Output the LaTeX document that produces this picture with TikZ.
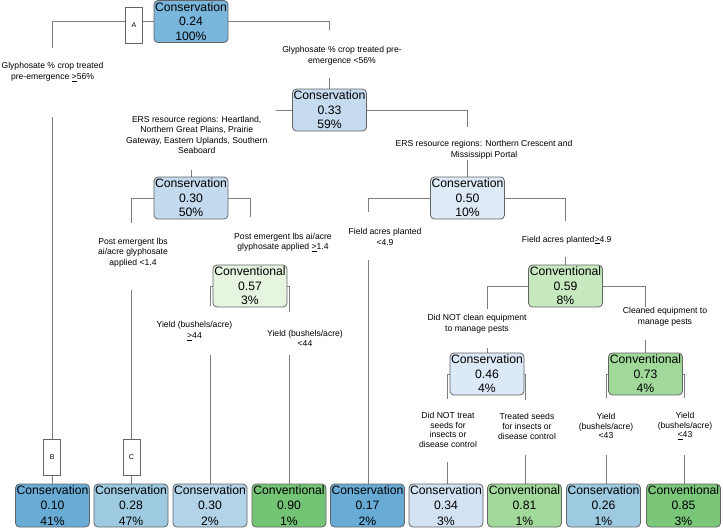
\documentclass[tikz,border=0pt]{standalone}
\usepackage{fontspec}
\setmainfont{Liberation Sans}
\usetikzlibrary{backgrounds,calc}
\definecolor{boxgray}{RGB}{100,100,100}
\definecolor{linegray}{RGB}{125,125,125}
\definecolor{c024}{RGB}{122,182,220}
\definecolor{c033}{RGB}{198,219,239}
\definecolor{c030}{RGB}{196,218,238}
\definecolor{c050}{RGB}{222,235,247}
\definecolor{c046}{RGB}{220,233,246}
\definecolor{g057}{RGB}{229,245,224}
\definecolor{g059}{RGB}{199,233,192}
\definecolor{g073}{RGB}{161,217,155}
\definecolor{c010}{RGB}{104,172,214}
\definecolor{c028}{RGB}{158,202,225}
\definecolor{c030l}{RGB}{178,211,232}
\definecolor{g090}{RGB}{116,196,118}
\definecolor{c017}{RGB}{104,172,214}
\definecolor{c034}{RGB}{210,226,242}
\definecolor{g081}{RGB}{161,217,155}
\definecolor{c026}{RGB}{158,202,225}
\definecolor{g085}{RGB}{122,199,122}
\tikzset{
  tn/.style={draw=boxgray, line width=0.8pt, rounded corners=4pt, minimum width=74pt,
    minimum height=42pt, inner sep=0pt, align=center, font=\fontsize{12.2}{14.6}\selectfont},
  lf/.style={tn, minimum height=43pt, font=\fontsize{12.2}{15.2}\selectfont},
  lbl/.style={align=center, inner sep=0pt, font=\fontsize{8.6}{10.6}\selectfont},
  lbls/.style={align=center, inner sep=0pt, font=\fontsize{8.6}{9.6}\selectfont},
  tagbox/.style={draw=boxgray, fill=white, line width=0.7pt, minimum width=17pt,
    minimum height=36pt, inner sep=0pt, font=\fontsize{7}{8}\selectfont},
  conn/.style={draw=linegray, line width=0.9pt},
}
\begin{document}
\begin{tikzpicture}[x=1pt,y=-1pt]
\useasboundingbox (0,0) rectangle (723,528);
% internal nodes
\node[tn, fill=c024] (n0) at (191,21.5) {Conservation\\0.24\\100\%};
\node[tn, fill=c033] (n1) at (329.5,110) {Conservation\\0.33\\59\%};
\node[tn, fill=c030] (n2) at (191,198) {Conservation\\0.30\\50\%};
\node[tn, fill=c050] (n3) at (467.5,198) {Conservation\\0.50\\10\%};
\node[tn, fill=g057] (n4) at (250,286) {Conventional\\0.57\\3\%};
\node[tn, fill=g059] (n5) at (565.5,286) {Conventional\\0.59\\8\%};
\node[tn, fill=c046] (n6) at (487,374) {Conservation\\0.46\\4\%};
\node[tn, fill=g073] (n7) at (645.5,374) {Conventional\\0.73\\4\%};
% leaves
\node[lf, fill=c010] (l1) at (52.5,505.5) {Conservation\\0.10\\41\%};
\node[lf, fill=c028] (l2) at (131,505.5) {Conservation\\0.28\\47\%};
\node[lf, fill=c030l] (l3) at (210,505.5) {Conservation\\0.30\\2\%};
\node[lf, fill=g090] (l4) at (289,505.5) {Conventional\\0.90\\1\%};
\node[lf, fill=c017] (l5) at (367.5,505.5) {Conservation\\0.17\\2\%};
\node[lf, fill=c034] (l6) at (446,505.5) {Conservation\\0.34\\3\%};
\node[lf, fill=g081] (l7) at (524.5,505.5) {Conventional\\0.81\\1\%};
\node[lf, fill=c026] (l8) at (603.5,505.5) {Conservation\\0.26\\1\%};
\node[lf, fill=g085] (l9) at (683.5,505.5) {Conventional\\0.85\\3\%};
% tags
\node[tagbox] (A) at (134,25) {A};
\node[tagbox] (B) at (52.3,457) {B};
\node[tagbox] (C) at (131.5,457) {C};
% labels
\node[lbl] (t1) at (52.5,72) {Glyphosate \% crop treated\\pre-emergence \underline{>}56\%};
\node[lbl] (t2) at (342,55.5) {Glyphosate \% crop treated pre-\\emergence <56\%};
\node[lbl] (t3) at (196.7,135) {ERS resource regions: Heartland,\\Northern Great Plains, Prairie\\Gateway, Eastern Uplands, Southern\\Seaboard};
\node[lbl] (t4) at (484,150) {ERS resource regions: Northern Crescent and\\Mississippi Portal};
\node[lbl] (t5) at (133,252.7) {Post emergent lbs\\ai/acre glyphosate\\applied <1.4};
\node[lbl] (t6) at (283,242.5) {Post emergent lbs ai/acre\\glyphosate applied \underline{>}1.4};
\node[lbl] (t7) at (385,236.7) {Field acres planted\\<4.9};
\node[lbl] (t8) at (566.7,240) {Field acres planted\underline{>}4.9};
\node[lbl] (t9) at (194.5,331) {Yield (bushels/acre)\\\underline{>}44};
\node[lbl] (t10) at (305,338.5) {Yield (bushels/acre)\\<44};
\node[lbl] (t11) at (477,324) {Did NOT clean equipment\\to manage pests};
\node[lbl] (t12) at (665,316.5) {Cleaned equipment to\\manage pests};
\node[lbls] (t13) at (448,430) {Did NOT treat\\seeds for\\insects or\\disease control};
\node[lbls] (t14) at (527,426.5) {Treated seeds\\for insects or\\disease control};
\node[lbls] (t15) at (606,426) {Yield\\(bushels/acre)\\<43};
\node[lbls] (t16) at (685,426) {Yield\\(bushels/acre)\\\underline{<}43};
% connectors
\begin{pgfonlayer}{background}
\coordinate (e1) at (52.3,48);
\coordinate (e2) at (52.3,117);
\coordinate (e3) at (329.5,30);
\coordinate (e4) at (329.5,78);
\coordinate (e5) at (276,110);
\coordinate (e6) at (191,170);
\coordinate (e7) at (467,127);
\coordinate (e8) at (467.5,160);
\coordinate (e9) at (131.5,223);
\coordinate (e10) at (131.5,290);
\coordinate (e11) at (250,217);
\coordinate (e12) at (210,306);
\coordinate (e13) at (289,312);
\coordinate (e14) at (210,355);
\coordinate (e15) at (289,355);
\coordinate (e16) at (368,212);
\coordinate (e17) at (368,260);
\coordinate (e18) at (565.5,221);
\coordinate (e19) at (565.5,257);
\coordinate (e20) at (487.5,309);
\coordinate (e21) at (487.5,348);
\coordinate (e22) at (645.5,307);
\coordinate (e23) at (645.5,340);
\coordinate (e24) at (447,399);
\coordinate (e25) at (525,400);
\coordinate (e26) at (447,462);
\coordinate (e27) at (525,455);
\coordinate (e28) at (606,398);
\coordinate (e29) at (684,398);
\coordinate (e30) at (606,455);
\coordinate (e31) at (684,455);
\draw[conn] (n0.west) -- (n0.west -| A.east);
\draw[conn] (n0.west -| A.west) -| (e1);
\draw[conn] (e2) -- (B.north);
\draw[conn] (B.south) -- (l1.north);
\draw[conn] (n0.east) -| (e3);
\draw[conn] (e4) -- (n1.north);
\draw[conn] (n1.west) -- (e5);
\draw[conn] (e6) -- (n2.north);
\draw[conn] (n1.east) -| (e7);
\draw[conn] (e8) -- (n3.north);
\draw[conn] (n2.west) -| (e9);
\draw[conn] (e10) -- (C.north);
\draw[conn] (C.south) -- (C.south |- l2.north);
\draw[conn] (n2.east) -| (e11);
\draw[conn] (n4.center) -| (e12);
\draw[conn] (n4.center) -| (e13);
\draw[conn] (e14) -- (e14 |- l3.north);
\draw[conn] (e15) -- (e15 |- l4.north);
\draw[conn] (n3.west) -| (e16);
\draw[conn] (e17) -- (e17 |- l5.north);
\draw[conn] (n3.east) -| (e18);
\draw[conn] (e19) -- (n5.north);
\draw[conn] (n5.west) -| (e20);
\draw[conn] (e21) -- (e21 |- n6.north);
\draw[conn] (n5.east) -| (e22);
\draw[conn] (e23) -- (n7.north);
\draw[conn] (n6.center) -| (e24);
\draw[conn] (n6.center) -| (e25);
\draw[conn] (e26) -- (e26 |- l6.north);
\draw[conn] (e27) -- (e27 |- l7.north);
\draw[conn] (n7.center) -| (e28);
\draw[conn] (n7.center) -| (e29);
\draw[conn] (e30) -- (e30 |- l8.north);
\draw[conn] (e31) -- (e31 |- l9.north);
\end{pgfonlayer}
\end{tikzpicture}
\end{document}
